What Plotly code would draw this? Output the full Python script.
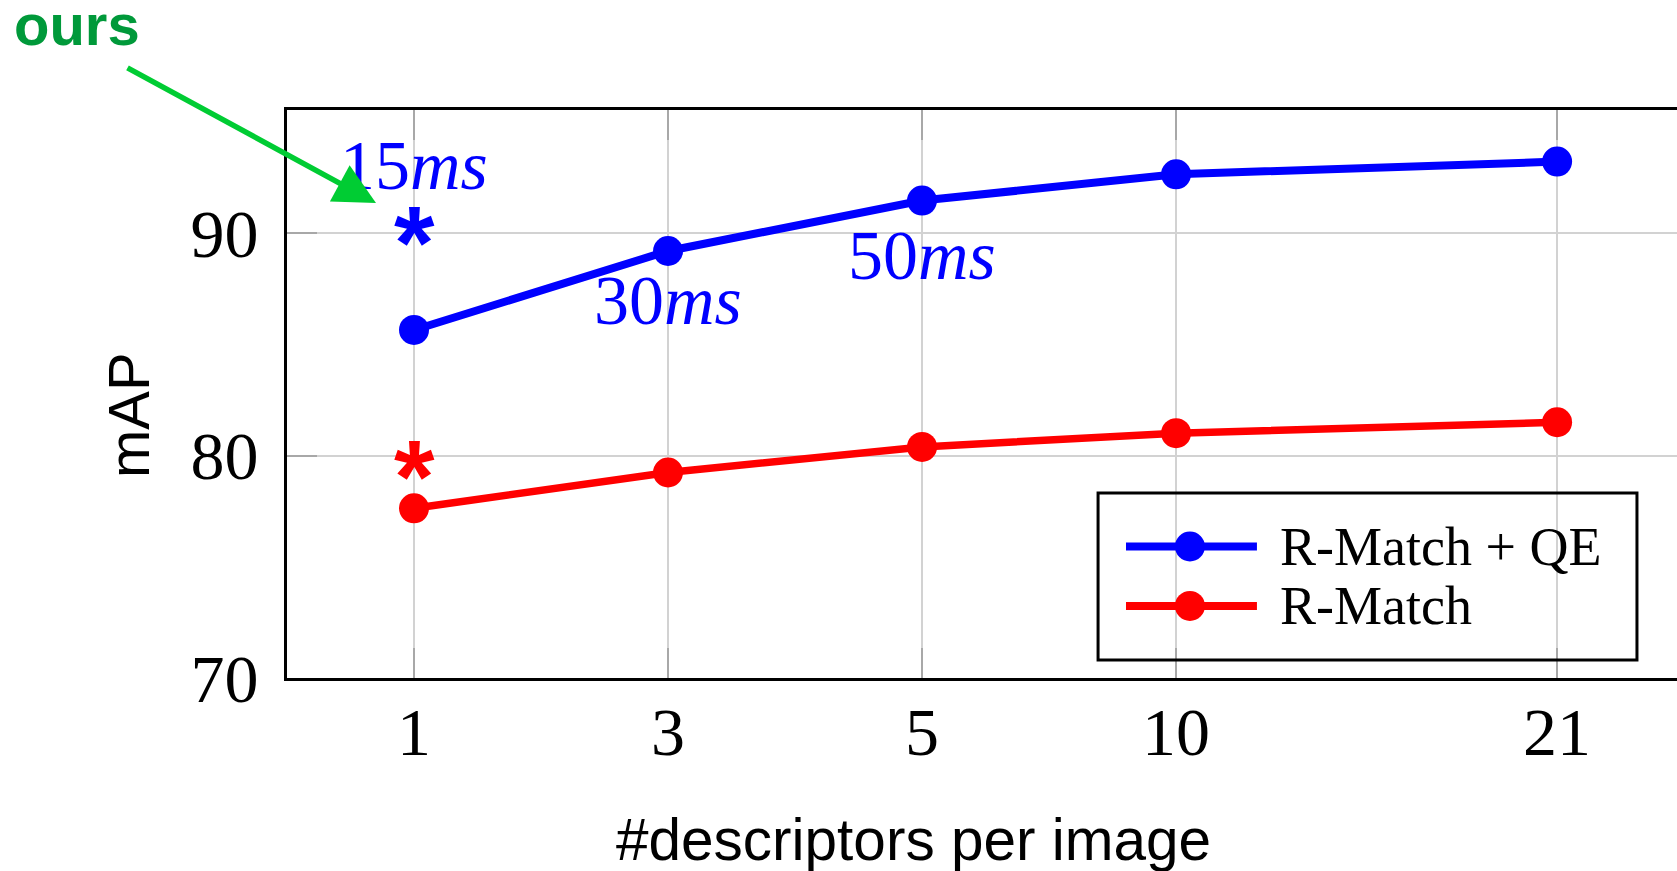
import plotly.graph_objects as go

# ---- data ----
categories = ["1", "3", "5", "10", "21"]
cat_slots = [0, 1, 2, 3, 4.5]          # axis placement of each category
series_names = ["R-Match + QE", "R-Match"]
rmatch_qe = [85.65, 89.2, 91.47, 92.65, 93.22]
rmatch = [77.63, 79.24, 80.39, 81.01, 81.5]
ours_qe = 90.25      # star at 1 descriptor (R-Match + QE)
ours_rm = 79.7       # star at 1 descriptor (R-Match)
timing_labels = ["15", "30", "50"]
y_ticks = [70, 80, 90]

BLUE = "#0000ff"
RED = "#ff0000"
SERIF = "Liberation Serif, Times New Roman, serif"
SANS = "Liberation Sans, Arial, sans-serif"

fig = go.Figure()

fig.add_trace(go.Scatter(
    x=cat_slots, y=rmatch_qe, mode="lines+markers", name=series_names[0],
    line=dict(color=BLUE, width=8), marker=dict(color=BLUE, size=30),
    showlegend=False))
fig.add_trace(go.Scatter(
    x=cat_slots, y=rmatch, mode="lines+markers", name=series_names[1],
    line=dict(color=RED, width=7.5), marker=dict(color=RED, size=30),
    showlegend=False))

# legend samples on an overlay axis in [0,1]
leg_rows = [0.2315, 0.1268]
for name, col, ry in zip(series_names, [BLUE, RED], leg_rows):
    fig.add_trace(go.Scatter(
        x=[0.6036, 0.6978], y=[ry, ry], xaxis="x2", yaxis="y2",
        mode="lines", line=dict(color=col, width=8), showlegend=False,
        hoverinfo="skip"))
    fig.add_trace(go.Scatter(
        x=[0.6496], y=[ry], xaxis="x2", yaxis="y2",
        mode="markers", marker=dict(color=col, size=30, opacity=1),
        showlegend=False, hoverinfo="skip"))

fig.update_layout(
    width=1677, height=871,
    margin=dict(l=287, r=0, t=110, b=193),
    paper_bgcolor="white", plot_bgcolor="white",
    xaxis=dict(
        range=[-0.5, 4.972], tickvals=cat_slots, ticktext=categories,
        showgrid=True, gridcolor="#d2d2d2", gridwidth=2,
        showline=True, linecolor="black", linewidth=3, mirror="ticks",
        ticks="inside", ticklen=30, tickwidth=2, tickcolor="#a8a8a8",
        tickfont=dict(family=SERIF, size=68, color="black"),
        ticklabelstandoff=-8, zeroline=False),
    yaxis=dict(
        range=[70, 95.54], tickvals=y_ticks,
        showgrid=True, gridcolor="#d2d2d2", gridwidth=2,
        showline=True, linecolor="black", linewidth=3,
        ticks="inside", ticklen=30, tickwidth=2, tickcolor="#a8a8a8",
        tickfont=dict(family=SERIF, size=68, color="black"),
        ticklabelstandoff=12, zeroline=False),
    xaxis2=dict(range=[0, 1], overlaying="x", visible=False, fixedrange=True),
    yaxis2=dict(range=[0, 1], overlaying="y", visible=False, fixedrange=True),
)

shapes = [dict(type="rect", xref="paper", yref="paper",
               x0=0.5835, x1=0.9712, y0=0.0317, y1=0.3257,
               line=dict(color="black", width=3), fillcolor="rgba(0,0,0,0)",
               layer="above")]
fig.update_layout(shapes=shapes)

ann = []
# legend text
for name, ry in zip(series_names, leg_rows):
    ann.append(dict(xref="paper", yref="paper", x=0.713, y=ry, text=name,
                    showarrow=False, xanchor="left", yanchor="middle",
                    font=dict(family=SERIF, size=54, color="black")))
# stars
for val, col in [(ours_qe, BLUE), (ours_rm, RED)]:
    ann.append(dict(x=cat_slots[0], y=val, text="<b>*</b>", showarrow=False,
                    xanchor="center", yanchor="middle", yshift=-15,
                    font=dict(family=SANS, size=104, color=col)))
# timings
TFONT = dict(family=SERIF, size=70, color=BLUE)
ann.append(dict(x=cat_slots[0], y=ours_qe, text=timing_labels[0] + "<i>ms</i>",
                showarrow=False, yshift=62, font=TFONT))
ann.append(dict(x=cat_slots[1], y=rmatch_qe[1], text=timing_labels[1] + "<i>ms</i>",
                showarrow=False, yshift=-49, font=TFONT))
ann.append(dict(x=cat_slots[2], y=rmatch_qe[2], text=timing_labels[2] + "<i>ms</i>",
                showarrow=False, yshift=-55, font=TFONT))
# axis titles
ann.append(dict(xref="paper", yref="paper", x=0.451, y=-0.285,
                text="#descriptors per image", showarrow=False,
                xanchor="center", yanchor="middle",
                font=dict(family=SANS, size=58.5, color="black")))
ann.append(dict(xref="paper", yref="paper", x=-0.1144, y=0.463,
                text="mAP", showarrow=False, textangle=-90,
                xanchor="center", yanchor="middle",
                font=dict(family=SANS, size=58, color="black")))
# "ours" label and arrow
ann.append(dict(xref="paper", yref="paper", x=(12 - 287) / 1390, y=(678 - 25) / 568,
                text="<b>ours</b>", showarrow=False, xanchor="left",
                yanchor="middle",
                font=dict(family=SANS, size=58, color="#00993a")))
ann.append(dict(xref="paper", yref="paper", x=(376 - 287) / 1390, y=(678 - 203) / 568,
                text="", showarrow=True, arrowhead=2, arrowsize=1.5,
                arrowwidth=5.5, arrowcolor="#00cc33", ax=-250, ay=-136,
                axref="pixel", ayref="pixel"))
fig.update_layout(annotations=ann)

fig.write_html(
    "out.html",
    config={"displayModeBar": False},
    post_script="document.body.style.margin='0';document.body.style.overflow='hidden';",
)
